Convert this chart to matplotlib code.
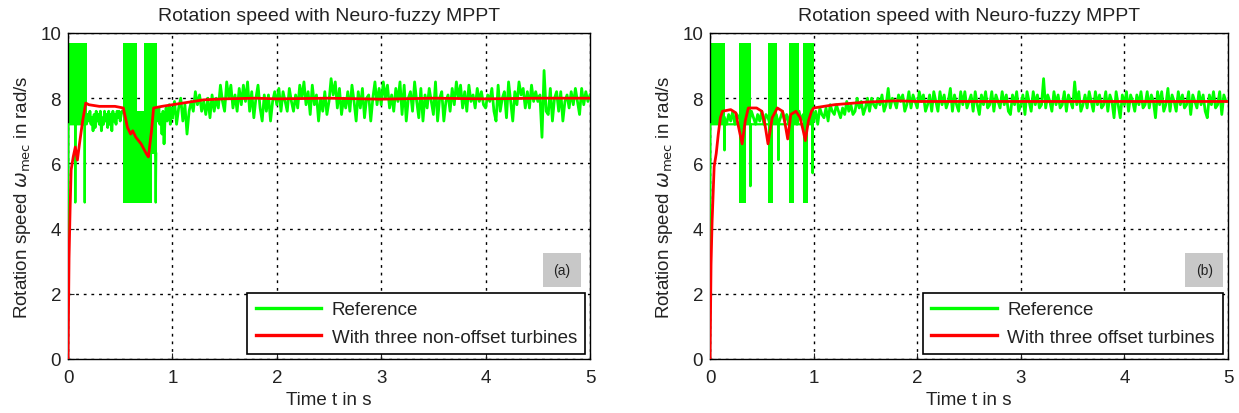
import numpy as np
import matplotlib
matplotlib.use("Agg")
import matplotlib.pyplot as plt
from matplotlib.lines import Line2D

plt.rcParams['font.family'] = ['Liberation Sans', 'DejaVu Sans']

# ---------------- data : panel (a) ----------------
# switching blocks of the reference signal (start, end, low, high)
a_blk_t0 = [0.004, 0.53, 0.66, 0.73, 0.80]
a_blk_t1 = [0.180, 0.66, 0.73, 0.80, 0.85]
a_blk_lo = [7.2, 4.8, 4.8, 4.8, 6.3]
a_blk_hi = [9.7, 9.7, 7.6, 9.7, 9.7]

# reference (green) line, start-up part
a_gs_t = [0.0, 0.004, 0.02, 0.069, 0.07, 0.072, 0.12, 0.159, 0.16, 0.162, 0.18, 0.19]
a_gs_v = [3.1, 7.2, 7.2, 7.2, 4.8, 7.2, 7.2, 7.2, 4.8, 7.2, 7.2, 7.5]
# spike at the end of the second switching burst
a_sp_t = [0.835, 0.84, 0.845]
a_sp_v = [6.3, 4.8, 6.3]
# reference between 0.19 s and 0.52 s (step 0.01 s)
a_g1 = [7.5, 7.3, 7.6, 7.2, 7.4, 7.0, 7.5, 7.1, 7.6, 7.3, 7.5, 7.2, 7.6, 7.0, 7.4, 7.2, 7.6,
        7.3, 7.5, 7.1, 7.6, 7.2, 7.5, 7.0, 7.6, 7.3, 7.5, 7.2, 7.6, 7.4, 7.6, 7.3, 7.5, 7.6]
# reference between 0.85 s and 1.0 s (step 0.01 s)
a_g2 = [7.6, 7.3, 7.7, 7.2, 7.5, 6.9, 7.6, 6.6, 7.4, 7.7, 7.3, 7.6, 7.8, 7.2, 7.7, 7.4]
# reference between 1.0 s and 5.0 s (step 0.02 s)
a_g3 = [7.4, 7.9, 7.2, 7.7, 8.0, 7.3, 7.8, 6.9, 7.6, 7.9, 7.6, 8.2, 7.8, 8.1, 7.6,
        7.9, 7.5, 8.0, 7.4, 8.1, 7.6, 8.0, 7.7, 8.4, 7.9, 7.6, 8.5, 8.0, 8.4, 7.7,
        8.1, 7.6, 8.3, 7.8, 8.4, 7.9, 8.5, 7.6, 8.2, 7.4, 8.0, 8.4, 7.7, 7.3, 8.1,
        7.6, 8.1, 7.3, 7.9, 8.2, 7.8, 8.3, 7.6, 8.2, 7.9, 7.6, 8.3, 7.9, 7.6, 8.1,
        7.7, 8.4, 8.0, 8.5, 7.8, 8.2, 7.5, 8.4, 7.8, 8.1, 7.3, 8.0, 7.6, 8.2, 7.5,
        7.9, 8.6, 8.1, 8.5, 7.7, 8.3, 7.5, 8.0, 7.7, 8.2, 7.6, 8.4, 7.9, 7.3, 8.2,
        7.7, 8.3, 7.4, 8.0, 8.1, 7.3, 8.0, 8.5, 7.8, 8.3, 7.8, 8.5, 8.0, 8.4, 7.7,
        8.1, 7.6, 8.3, 7.9, 8.5, 7.5, 8.4, 7.3, 8.0, 8.2, 7.6, 8.5, 7.9, 7.4, 8.3,
        7.3, 8.1, 7.7, 8.3, 7.9, 7.5, 8.5, 7.3, 8.0, 8.2, 7.3, 7.9, 8.1, 7.6, 8.3,
        7.8, 8.5, 8.0, 8.4, 7.7, 8.2, 7.6, 8.4, 7.9, 8.1, 7.7, 8.3, 7.9, 8.2, 7.8,
        7.7, 8.1, 7.9, 8.3, 7.6, 7.3, 8.4, 7.6, 8.0, 8.2, 7.4, 8.5, 7.9, 7.3, 8.2,
        7.8, 8.5, 8.1, 8.3, 7.7, 8.2, 7.7, 8.4, 7.9, 8.2, 7.9, 8.1, 6.8, 8.85, 7.6,
        7.5, 8.3, 7.3, 8.0, 8.2, 7.6, 8.2, 7.3, 7.9, 8.1, 7.7, 8.2, 7.8, 8.3, 7.9,
        7.5, 8.3, 7.8, 8.2, 7.9, 8.1]
# simulated rotation speed (red)
a_red_t = [0.0, 0.005, 0.01, 0.02, 0.03, 0.05, 0.07, 0.09, 0.11, 0.14, 0.17, 0.2, 0.3,
           0.45, 0.53, 0.57, 0.6, 0.62, 0.65, 0.7, 0.75, 0.77, 0.8, 0.82, 0.9, 1.0, 1.1,
           1.3, 1.5, 1.8, 2.0, 2.5, 3.0, 3.5, 4.0, 4.5, 5.0]
a_red_v = [0.0, 1.5, 3.1, 4.6, 5.8, 6.2, 6.5, 6.1, 6.6, 7.3, 7.85, 7.8, 7.75,
           7.75, 7.7, 7.1, 6.9, 7.0, 6.8, 6.6, 6.3, 6.2, 7.0, 7.7, 7.75, 7.8, 7.85,
           7.95, 7.98, 8.0, 7.98, 8.0, 7.97, 8.0, 7.98, 8.0, 8.0]

# ---------------- data : panel (b) ----------------
b_blk_t0 = [0.003, 0.28, 0.35, 0.56, 0.61, 0.76, 0.81, 0.90, 0.95]
b_blk_t1 = [0.140, 0.35, 0.40, 0.61, 0.65, 0.81, 0.86, 0.95, 1.00]
b_blk_lo = [7.2, 4.8, 7.2, 4.8, 7.2, 4.8, 7.2, 4.8, 7.2]
b_blk_hi = [9.7, 9.7, 9.7, 9.7, 9.7, 9.7, 9.7, 9.7, 9.7]

b_gs_t = [0.0, 0.003, 0.139, 0.14, 0.141, 0.389, 0.39, 0.391, 0.659, 0.66, 0.661,
          0.989, 0.99, 0.991]
b_gs_v = [3.0, 7.2, 7.2, 6.4, 7.2, 7.2, 5.3, 7.2, 7.2, 6.1, 7.2,
          7.2, 5.7, 7.2]
# reference between 0.14 s and 1.0 s (step 0.02 s)
b_g1 = [7.4, 7.2, 7.5, 7.3, 7.6, 7.2, 7.5, 7.4, 7.3, 7.6, 7.2, 7.5, 7.3, 7.6, 7.4,
        7.2, 7.5, 7.3, 7.6, 7.2, 7.5, 7.4, 7.2, 7.6, 7.3, 7.5, 7.2, 7.4, 7.6, 7.3,
        7.5, 7.2, 7.6, 7.3, 7.5, 7.2, 7.6, 7.3, 7.5, 7.2, 7.6, 7.3, 7.5, 7.3]
# reference between 1.0 s and 5.0 s (step 0.02 s)
b_g3 = [7.3, 7.6, 7.2, 7.7, 7.5, 7.4, 7.7, 7.3, 7.8, 7.6, 7.5, 7.8, 7.6, 7.4, 7.7,
        7.5, 7.9, 7.6, 7.8, 7.5, 7.6, 8.0, 7.7, 7.9, 7.5, 7.7, 8.0, 7.6, 8.0, 7.8,
        7.7, 8.0, 7.8, 8.1, 7.6, 7.8, 8.3, 7.7, 8.0, 7.9, 7.7, 8.1, 7.9, 8.1, 7.6,
        7.8, 8.2, 7.7, 8.1, 7.9, 7.7, 8.2, 7.9, 8.1, 7.6, 7.8, 8.1, 7.6, 8.2, 7.9,
        7.6, 8.2, 7.8, 8.1, 7.7, 7.9, 8.3, 7.6, 8.1, 7.8, 7.6, 8.2, 7.8, 8.2, 7.7,
        7.9, 8.1, 7.6, 8.2, 7.8, 7.5, 8.1, 7.8, 8.2, 7.7, 7.8, 8.2, 7.6, 8.1, 7.9,
        7.7, 8.2, 7.8, 8.1, 7.6, 7.5, 8.1, 7.8, 8.2, 7.6, 7.8, 8.1, 7.5, 8.2, 7.9,
        7.6, 8.2, 7.8, 8.1, 7.7, 7.8, 8.6, 7.7, 8.1, 7.9, 7.6, 8.2, 7.8, 8.1, 7.7,
        7.8, 8.2, 7.6, 8.1, 7.9, 7.7, 8.5, 7.8, 8.2, 7.6, 7.8, 8.1, 7.7, 8.2, 7.9,
        7.6, 8.2, 7.8, 8.1, 7.7, 7.8, 8.2, 7.6, 8.1, 7.9, 7.4, 8.2, 7.8, 7.4, 8.1,
        7.8, 8.2, 7.6, 8.1, 7.9, 7.6, 8.1, 7.8, 8.2, 7.7, 7.8, 8.2, 7.7, 8.1, 7.9,
        7.4, 8.2, 7.8, 8.2, 7.6, 7.8, 8.3, 7.6, 8.1, 7.9, 7.6, 8.2, 7.8, 8.1, 7.7,
        7.8, 8.2, 7.5, 8.1, 7.9, 7.7, 8.2, 7.8, 8.1, 7.6, 7.4, 8.1, 7.8, 8.2, 7.7,
        7.8, 8.2, 7.5, 8.1, 7.9, 7.9]
b_red_t = [0.0, 0.005, 0.01, 0.02, 0.04, 0.06, 0.08, 0.1, 0.12, 0.2, 0.25, 0.27, 0.31,
           0.34, 0.37, 0.45, 0.5, 0.53, 0.56, 0.6, 0.65, 0.7, 0.72, 0.75, 0.78, 0.83,
           0.87, 0.9, 0.92, 0.95, 0.98, 1.0, 1.2, 1.5, 1.8, 2.0, 5.0]
b_red_v = [0.0, 1.4, 2.9, 4.2, 5.9, 6.3, 6.9, 7.4, 7.6, 7.65, 7.55, 7.2, 6.6,
           7.3, 7.7, 7.7, 7.6, 7.2, 6.6, 7.4, 7.7, 7.6, 7.3, 6.75, 7.5, 7.6,
           7.4, 7.0, 6.7, 7.3, 7.6, 7.7, 7.8, 7.88, 7.92, 7.9, 7.9]

titles = ["Rotation speed with Neuro-fuzzy MPPT", "Rotation speed with Neuro-fuzzy MPPT"]
legend_labels_a = ["Reference", "With three non-offset turbines"]
legend_labels_b = ["Reference", "With three offset turbines"]
panel_tags = ["(a)", "(b)"]
xticks = [0, 1, 2, 3, 4, 5]
yticks = [0, 2, 4, 6, 8, 10]

GREEN = '#00ff00'
RED = '#ff0000'
TXT = '#222222'

fig = plt.figure(figsize=(12.39, 4.14), dpi=100)
ax_a = fig.add_axes([68 / 1239, 54 / 414, 522 / 1239, 326 / 414])
ax_b = fig.add_axes([710 / 1239, 54 / 414, 518 / 1239, 326 / 414])


def draw_panel(ax, blk, lines, segs, red_t, red_v, labels, tag, title, tagx):
    t0, t1, lo, hi = blk
    for s, e, l, h in zip(t0, t1, lo, hi):
        ax.fill_between([s, e], [l, l], [h, h], color=GREEN, lw=0, zorder=2)
    for (lt, lv) in lines:
        ax.plot(lt, lv, color=GREEN, lw=1.6, zorder=3)
    for (start, end, vals) in segs:
        tt = np.linspace(start, end, len(vals))
        ax.plot(tt, vals, color=GREEN, lw=2.0, zorder=3)
    ax.plot(red_t, red_v, color=RED, lw=2.0, zorder=4)

    ax.set_xlim(0, 5)
    ax.set_ylim(0, 10)
    ax.set_xticks(xticks)
    ax.set_yticks(yticks)
    ax.tick_params(direction='in', length=4, labelsize=13.5, colors=TXT)
    ax.tick_params(axis='x', pad=7)
    ax.tick_params(axis='y', pad=5)
    ax.grid(True, color='black', linestyle=(0, (2, 3.5)), linewidth=1.0, zorder=1)
    ax.set_axisbelow(True)
    for sp in ax.spines.values():
        sp.set_color('black')
        sp.set_linewidth(1.0)
    ax.set_title(title, fontsize=14, color=TXT, pad=9)
    ax.set_xlabel("Time t in s", fontsize=13.5, color=TXT, labelpad=4)
    ax.set_ylabel(r"Rotation speed $\omega_{\mathrm{mec}}$ in rad/s", fontsize=13.5,
                  color=TXT, labelpad=5)
    handles = [Line2D([], [], color=GREEN, lw=2.4), Line2D([], [], color=RED, lw=2.4)]
    leg = ax.legend(handles, labels, loc='lower right', fontsize=13.5, frameon=True,
                    fancybox=False, edgecolor='black', framealpha=1,
                    handlelength=3.5, handletextpad=0.55, borderaxespad=0.25,
                    borderpad=0.45, labelspacing=0.55)
    leg.get_frame().set_linewidth(1.2)
    for txt in leg.get_texts():
        txt.set_color(TXT)
    ax.text(tagx, 0.273, tag, transform=ax.transAxes, ha='center', va='center',
            fontsize=10, color=TXT, zorder=6,
            bbox=dict(boxstyle='square,pad=0.75', facecolor='#c8c8c8', edgecolor='none'))


draw_panel(ax_a, (a_blk_t0, a_blk_t1, a_blk_lo, a_blk_hi),
           [(a_gs_t, a_gs_v), (a_sp_t, a_sp_v)],
           [(0.19, 0.52, a_g1), (0.85, 1.0, a_g2), (1.0, 5.0, a_g3)],
           a_red_t, a_red_v, legend_labels_a, panel_tags[0], titles[0], 0.946)
draw_panel(ax_b, (b_blk_t0, b_blk_t1, b_blk_lo, b_blk_hi),
           [(b_gs_t, b_gs_v)],
           [(0.14, 1.0, b_g1), (1.0, 5.0, b_g3)],
           b_red_t, b_red_v, legend_labels_b, panel_tags[1], titles[1], 0.954)

fig.savefig("out.png", dpi=100, facecolor='white')
